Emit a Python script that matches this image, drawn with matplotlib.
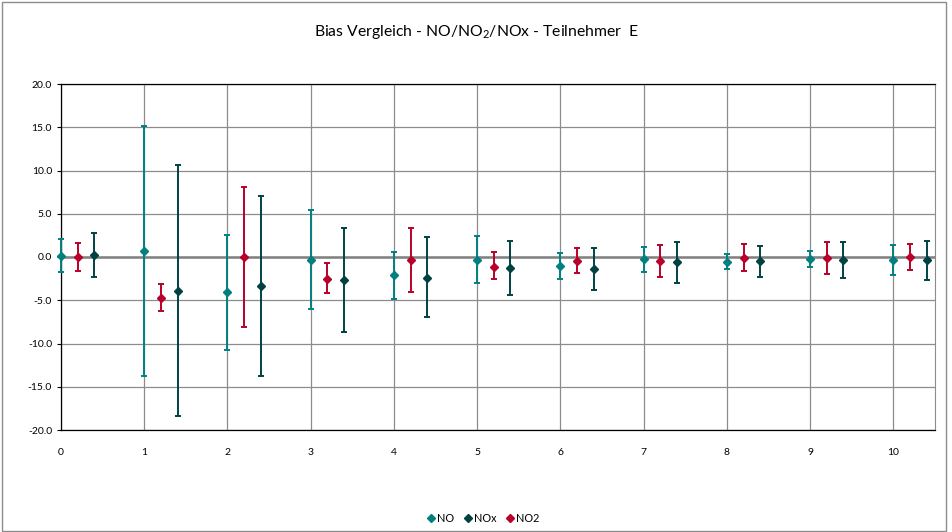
import matplotlib
matplotlib.use("Agg")
import matplotlib.pyplot as plt
from matplotlib.patches import Rectangle
from matplotlib.lines import Line2D
import numpy as np

plt.rcParams['font.family'] = ['Lato', 'DejaVu Sans']

groups = [0, 1, 2, 3, 4, 5, 6, 7, 8, 9, 10]

no_val = [0.15, 0.7, -4.0, -0.35, -2.1, -0.3, -1.05, -0.27, -0.54, -0.27, -0.4]
no_hi = [2.1, 15.2, 2.6, 5.4, 0.6, 2.4, 0.42, 1.15, 0.4, 0.65, 1.4]
no_lo = [-1.7, -13.7, -10.7, -6.0, -4.9, -3.0, -2.5, -1.73, -1.43, -1.15, -2.1]

no2_val = [0.0, -4.7, 0.0, -2.5, -0.4, -1.1, -0.42, -0.42, -0.08, -0.15, -0.04]
no2_hi = [1.65, -3.1, 8.1, -0.72, 3.4, 0.55, 1.08, 1.43, 1.5, 1.73, 1.5]
no2_lo = [-1.6, -6.25, -8.1, -4.18, -4.05, -2.6, -1.85, -2.3, -1.6, -1.93, -1.5]

nox_val = [0.27, -3.9, -3.4, -2.7, -2.4, -1.3, -1.4, -0.6, -0.5, -0.3, -0.3]
nox_hi = [2.8, 10.6, 7.05, 3.3, 2.3, 1.85, 1.04, 1.7, 1.27, 1.7, 1.9]
nox_lo = [-2.35, -18.4, -13.8, -8.65, -6.9, -4.4, -3.85, -2.97, -2.3, -2.4, -2.65]

series = [
    ("NO", 0.0, no_val, no_lo, no_hi, "#008080"),
    ("NO2", 0.2, no2_val, no2_lo, no2_hi, "#B8002A"),
    ("NOx", 0.4, nox_val, nox_lo, nox_hi, "#004242"),
]
colors = {s[0]: s[5] for s in series}

fig = plt.figure(figsize=(9.52, 5.32), dpi=100)
ax = fig.add_axes([61/952, 1-430/532, (935-61)/952, (430-84)/532])

for name, off, v, lo, hi, col in series:
    x = np.array(groups) + off
    v = np.array(v); lo = np.array(lo); hi = np.array(hi)
    cont = ax.errorbar(x, v, yerr=[v - lo, hi - v], fmt='D', color=col, ecolor=col,
                       markersize=4, elinewidth=1.4, capsize=2.2, capthick=1.4,
                       label=name, zorder=3)
    for art in [cont[0], *cont[1], *cont[2]]:
        art.set_clip_on(False)

ax.set_xlim(0, 10.5)
ax.set_ylim(-20, 20)
ax.set_yticks(np.arange(-20, 21, 5))
ax.set_yticklabels([f"{t:.1f}" for t in np.arange(-20, 21, 5)])
ax.set_xticks(groups)
ax.set_xticklabels([str(g) for g in groups])
ax.grid(True, color='#8c8c8c', linewidth=0.9)
ax.set_axisbelow(True)
ax.axhline(0, color='#808080', linewidth=1.8, zorder=1)
ax.tick_params(axis='both', labelsize=7.5, length=3, width=0.8, colors='black')
ax.tick_params(axis='x', length=0, pad=13)
for s in ['top', 'bottom', 'left']:
    ax.spines[s].set_color('black')
    ax.spines[s].set_linewidth(0.9)
ax.spines['right'].set_color('#8c8c8c')

fig.text(0.5, 1-32/532, r"Bias Vergleich - NO/NO$_\mathregular{2}$/NOx - Teilnehmer  E",
         ha='center', va='center', fontsize=11.3)

leg_handles = [Line2D([], [], linestyle='none', marker='D', markersize=4, color=colors[n])
               for n in ["NO", "NOx", "NO2"]]
fig.legend(leg_handles, ["NO", "NOx", "NO2"],
           loc='center', bbox_to_anchor=(0.508, 1-518/532), ncol=3, frameon=False,
           fontsize=7.8, handlelength=0.6, handletextpad=0.3, columnspacing=0.9,
           borderaxespad=0)

fig.patches.append(Rectangle((2/952, 1/532), 944/952, 529/532, transform=fig.transFigure,
                             fill=False, edgecolor='#8c8c8c', linewidth=1.0))

fig.savefig("out.png", dpi=100)
